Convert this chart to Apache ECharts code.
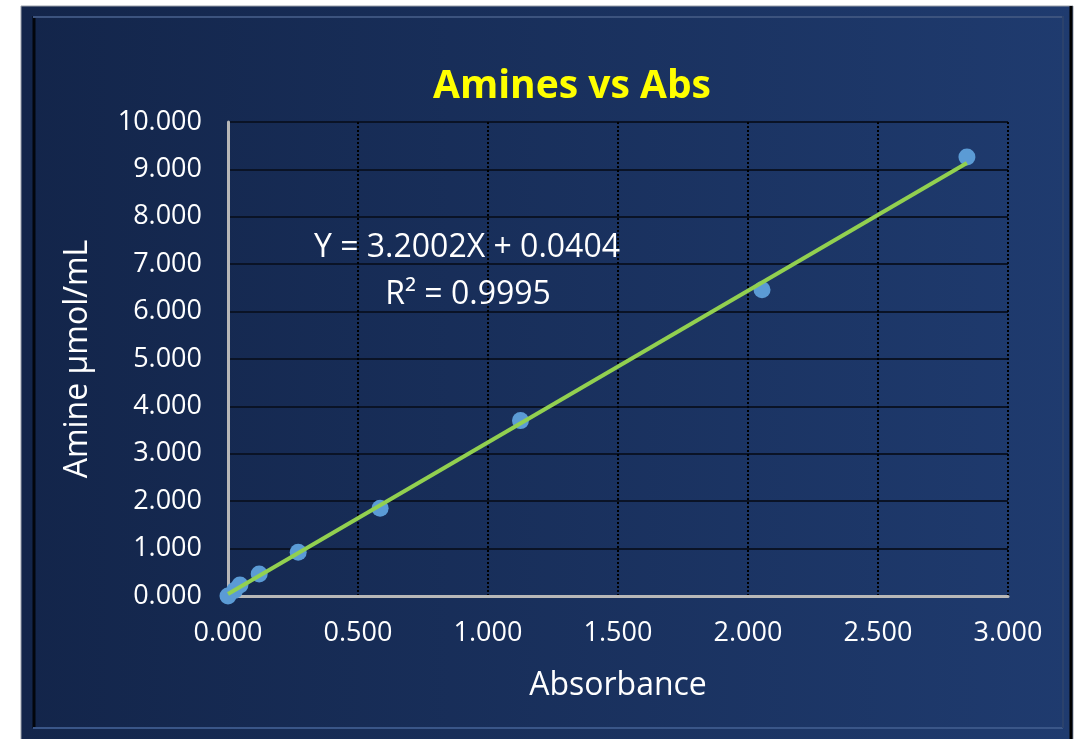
<!DOCTYPE html>
<html>
<head>
<meta charset="utf-8">
<script src="https://cdn.jsdelivr.net/npm/echarts@6/dist/echarts.min.js"></script>
<style>
  html, body { margin: 0; padding: 0; background: #fff; }
  #chart { width: 1082px; height: 739px; }
</style>
</head>
<body>
<div id="chart"></div>
<script>
// 数据
var absorbance = [0, 0.025, 0.046, 0.12, 0.27, 0.585, 1.125, 2.054, 2.842];
var amine = [0, 0.116, 0.231, 0.463, 0.925, 1.85, 3.70, 6.46, 9.26];
var xTicks = [0, 0.5, 1, 1.5, 2, 2.5, 3];
var yTicks = [0, 1, 2, 3, 4, 5, 6, 7, 8, 9, 10];

// 趋势线 (linear fit shown on the chart)
var slope = 3.2002;
var intercept = 0.0404;
var r2 = 0.9995;

var points = absorbance.map(function (x, i) { return [x, amine[i]]; });
var xMin = Math.min.apply(null, absorbance);
var xMax = Math.max.apply(null, absorbance);
var trend = [[xMin, slope * xMin + intercept], [xMax, slope * xMax + intercept]];

var font = '"Open Sans", "Noto Sans", sans-serif';
var fmt3 = function (v) { return Number(v).toFixed(3); };

var Chart = echarts.init(document.getElementById('chart'));
Chart.setOption({
    backgroundColor: '#ffffff',
    animation: false,
    grid: { left: 228, right: 74, top: 122, bottom: 143 },
    xAxis: {
        type: 'value',
        min: xTicks[0],
        max: xTicks[xTicks.length - 1],
        interval: 0.5,
        name: 'Absorbance',
        nameLocation: 'middle',
        nameGap: 74,
        nameTextStyle: { color: '#ffffff', fontSize: 32, fontFamily: font },
        axisLine: { show: true, lineStyle: { color: '#b8b8b8', width: 3 } },
        axisTick: { show: false },
        axisLabel: { color: '#ffffff', fontSize: 27, fontFamily: font, margin: 24, formatter: fmt3 },
        splitLine: { show: true, lineStyle: { color: '#000000', width: 2, type: [2, 2] } }
    },
    yAxis: {
        type: 'value',
        min: yTicks[0],
        max: yTicks[yTicks.length - 1],
        interval: 1,
        name: 'Amine µmol/mL',
        nameLocation: 'middle',
        nameGap: 134,
        nameTextStyle: { color: '#ffffff', fontSize: 32, fontFamily: font },
        axisLine: { show: true, lineStyle: { color: '#b8b8b8', width: 3 } },
        axisTick: { show: false },
        axisLabel: { color: '#ffffff', fontSize: 27, fontFamily: font, margin: 26, formatter: fmt3 },
        splitLine: { show: true, lineStyle: { color: '#0a1326', width: 2 } }
    },
    graphic: [
        // 外框
        {
            type: 'rect', z: -10, silent: true,
            shape: { x: 21, y: 6, width: 1052, height: 745 },
            style: {
                fill: new echarts.graphic.LinearGradient(0, 0, 1, 0, [
                    { offset: 0, color: '#13254a' },
                    { offset: 1, color: '#1f3b6f' }
                ]),
                stroke: '#9aa0aa', lineWidth: 1
            }
        },
        { type: 'line', z: -9, silent: true, shape: { x1: 34, y1: 16, x2: 34, y2: 728 }, style: { stroke: '#03060c', lineWidth: 3 } },
        { type: 'line', z: -9, silent: true, shape: { x1: 33, y1: 17, x2: 1063, y2: 17 }, style: { stroke: '#3c537e', lineWidth: 2 } },
        { type: 'line', z: -9, silent: true, shape: { x1: 33, y1: 728, x2: 1063, y2: 728 }, style: { stroke: '#3a5688', lineWidth: 2 } },
        { type: 'line', z: -9, silent: true, shape: { x1: 1063, y1: 16, x2: 1063, y2: 728 }, style: { stroke: '#2b426c', lineWidth: 2 } },
        { type: 'line', z: -9, silent: true, shape: { x1: 1071, y1: 6, x2: 1071, y2: 739 }, style: { stroke: '#000000', lineWidth: 3 } },
        // 标题
        {
            type: 'text', z: 10, silent: true,
            style: {
                x: 572, y: 87, text: 'Amines vs Abs', align: 'center', verticalAlign: 'middle',
                fill: '#ffff00', font: 'bold 39px ' + font
            }
        },
        // 方程
        {
            type: 'text', z: 10, silent: true,
            style: {
                x: 467, y: 248, text: 'Y = ' + slope.toFixed(4) + 'X + ' + intercept.toFixed(4),
                align: 'center', verticalAlign: 'middle', fill: '#ffffff', font: '32px ' + font
            }
        },
        {
            type: 'text', z: 10, silent: true,
            style: {
                x: 468, y: 295, text: 'R² = ' + r2.toFixed(4),
                align: 'center', verticalAlign: 'middle', fill: '#ffffff', font: '32px ' + font
            }
        }
    ],
    series: [
        {
            name: 'data',
            type: 'scatter',
            symbolSize: 17,
            itemStyle: { color: '#5b9bd5', opacity: 1 },
            data: points,
            z: 3
        },
        {
            name: 'trend',
            type: 'line',
            showSymbol: false,
            symbol: 'none',
            lineStyle: { color: '#92d050', width: 4 },
            data: trend,
            z: 4
        }
    ]
});
</script>
</body>
</html>
